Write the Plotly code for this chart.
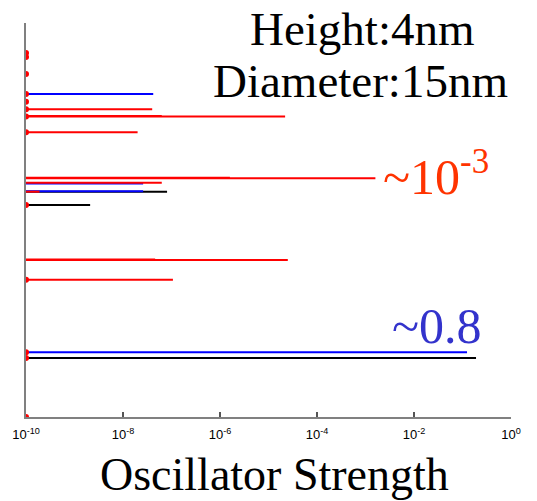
import plotly.graph_objects as go

# Transition levels (arbitrary energy units, bottom of axis = 0) and oscillator strengths
black_levels = [225.3, 212.0, 59.0]
black_strength = [8.1e-8, 2.1e-9, 0.19]

blue_levels = [323.0, 225.7, 233.5, 64.7]
blue_strength = [4.2e-8, 2.6e-8, 2.6e-8, 0.124]

red_levels = [307.7, 300.4, 300.9, 284.7, 238.7, 239.2, 234.3, 225.3, 157.0, 157.5, 137.3]
red_strength = [4.0e-8, 2.2e-5, 6.3e-8, 2.0e-8, 1.6e-3, 1.6e-6, 6.3e-8, 1.9e-10, 2.5e-5, 4.6e-8, 1.07e-7]

# dark (negligible-strength) transitions
red_dark_levels = [364.0, 360.0, 343.0, 323.0, 315.3, 307.7, 300.4, 284.7, 212.0, 137.3, 64.7, 59.0, 0.0]
f_min = 1e-10

tick_vals = [1e-10, 1e-8, 1e-6, 1e-4, 1e-2, 1]
tick_text = ["10<sup>-10</sup>", "10<sup>-8</sup>", "10<sup>-6</sup>", "10<sup>-4</sup>", "10<sup>-2</sup>", "10<sup>0</sup>"]


def segs(levels, strengths):
    xs, ys = [], []
    for lv, f in zip(levels, strengths):
        xs += [f_min, f, None]
        ys += [lv, lv, None]
    return xs, ys


fig = go.Figure()
for lv, fs, col in [(black_levels, black_strength, "#000000"),
                    (blue_levels, blue_strength, "#0000ff"),
                    (red_levels, red_strength, "#ff0000")]:
    xs, ys = segs(lv, fs)
    fig.add_trace(go.Scatter(x=xs, y=ys, mode="lines", line=dict(color=col, width=2),
                             showlegend=False, hoverinfo="skip"))

fig.add_trace(go.Scatter(x=[f_min] * len(red_dark_levels), y=red_dark_levels, mode="markers",
                         marker=dict(color="#ff0000", size=6), showlegend=False, hoverinfo="skip"))

serif = "Liberation Serif, Times New Roman, serif"


def ann(text, x, y, size, color):
    return dict(text=text, xref="paper", yref="paper", x=x, y=y, xanchor="center", yanchor="middle",
                showarrow=False, font=dict(family=serif, size=size, color=color))


fig.update_layout(
    width=529, height=493,
    margin=dict(l=18, r=26, t=15, b=84, autoexpand=False),
    paper_bgcolor="white", plot_bgcolor="white",
    xaxis=dict(type="log", range=[-10, 0], tickvals=tick_vals, ticktext=tick_text, automargin=False,
               ticks="inside", ticklen=5, tickwidth=1.5, tickcolor="#555555", ticklabelstandoff=5,
               showline=True, linecolor="#808080", linewidth=1.5, showgrid=False, zeroline=False,
               tickfont=dict(family="Liberation Sans, Arial, sans-serif", size=13, color="black")),
    yaxis=dict(range=[0, 394], showticklabels=False, ticks="", showline=True, linecolor="#808080",
               linewidth=1.5, showgrid=False, zeroline=False, automargin=False),
    annotations=[
        ann("Oscillator Strength", 0.513, -0.145, 46, "black"),
        ann("Height:4nm", 0.693, 0.985, 47, "black"),
        ann("Diameter:15nm", 0.689, 0.853, 47, "black"),
        ann("~10<sup>-3</sup>", 0.845, 0.617, 50, "#ff3300"),
        ann("~0.8", 0.847, 0.232, 50, "#3333cc"),
    ],
)

fig.write_html("out.html")
